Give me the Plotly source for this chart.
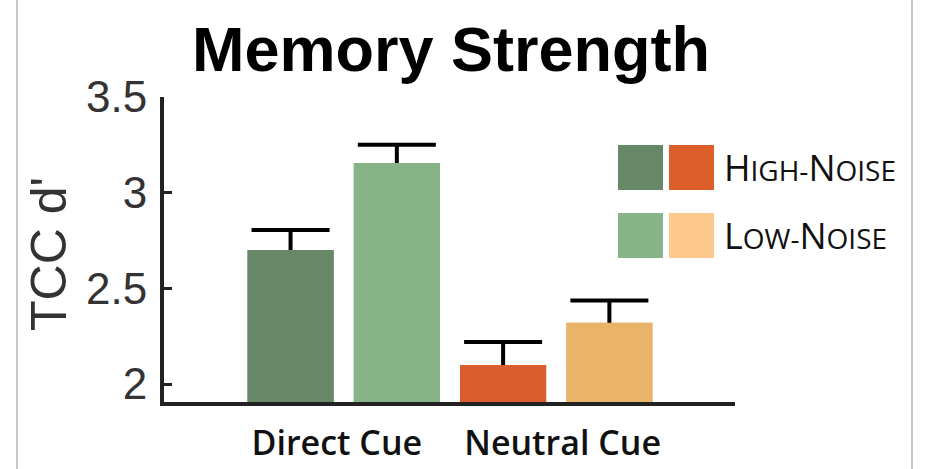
import plotly.graph_objects as go

# --- data -------------------------------------------------------------
categories = ["Direct Cue", "Neutral Cue"]
high_noise = [2.70, 2.10]
low_noise = [3.155, 2.32]
high_err = [0.105, 0.12]
low_err = [0.095, 0.117]

high_colors = ["#678767", "#d95d2d"]
low_colors = ["#86b487", "#e9b46a"]
legend_high = ["#668866", "#db5e2b"]
legend_low = ["#86b486", "#fdc98b"]

# --- bar layout: each cue gets a high-noise and a low-noise bar --------
xs, ys, errs, cols = [], [], [], []
for i in range(len(categories)):
    xs += [2 * i + 1, 2 * i + 2]
    ys += [high_noise[i], low_noise[i]]
    errs += [high_err[i], low_err[i]]
    cols += [high_colors[i], low_colors[i]]
# group labels sit slightly outward from each pair's centre
label_shift = [-0.065, 0.06]
tick_pos = [2 * i + 1.5 + label_shift[i] for i in range(len(categories))]

W, H = 926, 469
L, R, T, B = 164, 191, 97, 67
PW, PH = W - L - R, H - T - B


def px(xp):
    return (xp - L) / PW


def py(yp):
    return (H - B - yp) / PH


fig = go.Figure()
# error bars (lower half gets hidden by the bars drawn on top)
fig.add_trace(go.Bar(
    x=xs, y=ys, width=0.81, marker=dict(color=cols, line=dict(width=0)),
    error_y=dict(type="data", array=errs, symmetric=True,
                 color="#000000", thickness=4, width=39),
    showlegend=False, hoverinfo="skip",
))
fig.add_trace(go.Bar(
    x=xs, y=ys, width=0.81, marker=dict(color=cols, line=dict(width=0)),
    showlegend=False,
))

shapes = []
# light frame lines at both sides
for xp in (17, 912):
    shapes.append(dict(type="line", xref="paper", yref="paper",
                       x0=px(xp), x1=px(xp), y0=-0.5, y1=1.6,
                       line=dict(color="#c8c8c8", width=2)))

# legend swatches
rows = [(145, 190, legend_high), (213, 258, legend_low)]
for y0, y1, pair in rows:
    for (x0, x1), c in zip([(618, 663), (669, 714)], pair):
        shapes.append(dict(type="rect", xref="paper", yref="paper",
                           x0=px(x0), x1=px(x1), y0=py(y1), y1=py(y0),
                           fillcolor=c, line=dict(width=0)))


def small_caps(first, rest_a, first_b, rest_b):
    s = "font-size:28px"
    return (f"{first}<span style='{s}'>{rest_a}</span>"
            f"{first_b}<span style='{s}'>{rest_b}</span>")


legend_labels = [small_caps("H", "IGH-", "N", "OISE"),
                 small_caps("L", "OW-", "N", "OISE")]
annotations = []
for (y0, y1, _), lab in zip(rows, legend_labels):
    annotations.append(dict(
        text=lab, xref="paper", yref="paper", x=px(722), y=py((y0 + y1) / 2),
        xanchor="left", yanchor="middle", showarrow=False,
        font=dict(family="Open Sans", size=36, color="#111111", weight=500),
    ))

# y-axis title
annotations.append(dict(
    text="TCC d'", xref="paper", yref="paper", x=px(49), y=py(254),
    xanchor="center", yanchor="middle", textangle=-90, showarrow=False,
    font=dict(family="Liberation Sans", size=50, color="#333333"),
))

fig.update_layout(
    width=W, height=H,
    margin=dict(l=L, r=R, t=T, b=B),
    paper_bgcolor="white", plot_bgcolor="white",
    barmode="overlay",
    title=dict(text="<b>Memory Strength</b>", xref="paper", x=px(451),
               xanchor="center", yref="container", y=1 - 49 / H,
               yanchor="middle",
               font=dict(family="Liberation Sans", size=63, color="#000000")),
    shapes=shapes, annotations=annotations,
    xaxis=dict(range=[-0.191, 5.182], tickvals=tick_pos, ticktext=categories,
               showgrid=False, zeroline=False, showline=True,
               linecolor="#222222", linewidth=4, ticks="",
               ticklabelstandoff=8, automargin=False,
               tickfont=dict(family="Open Sans", size=34, color="#111111",
                             weight=600)),
    yaxis=dict(range=[1.906, 3.5], tickvals=[2, 2.5, 3, 3.5],
               ticktext=["2", "2.5", "3", "3.5"],
               showgrid=False, zeroline=False, showline=True,
               linecolor="#222222", linewidth=4,
               ticks="inside", ticklen=8, tickwidth=3, tickcolor="#222222",
               ticklabelstandoff=4, automargin=False,
               tickfont=dict(family="Liberation Sans", size=44, color="#333333")),
)

fig.write_html("out.html")
